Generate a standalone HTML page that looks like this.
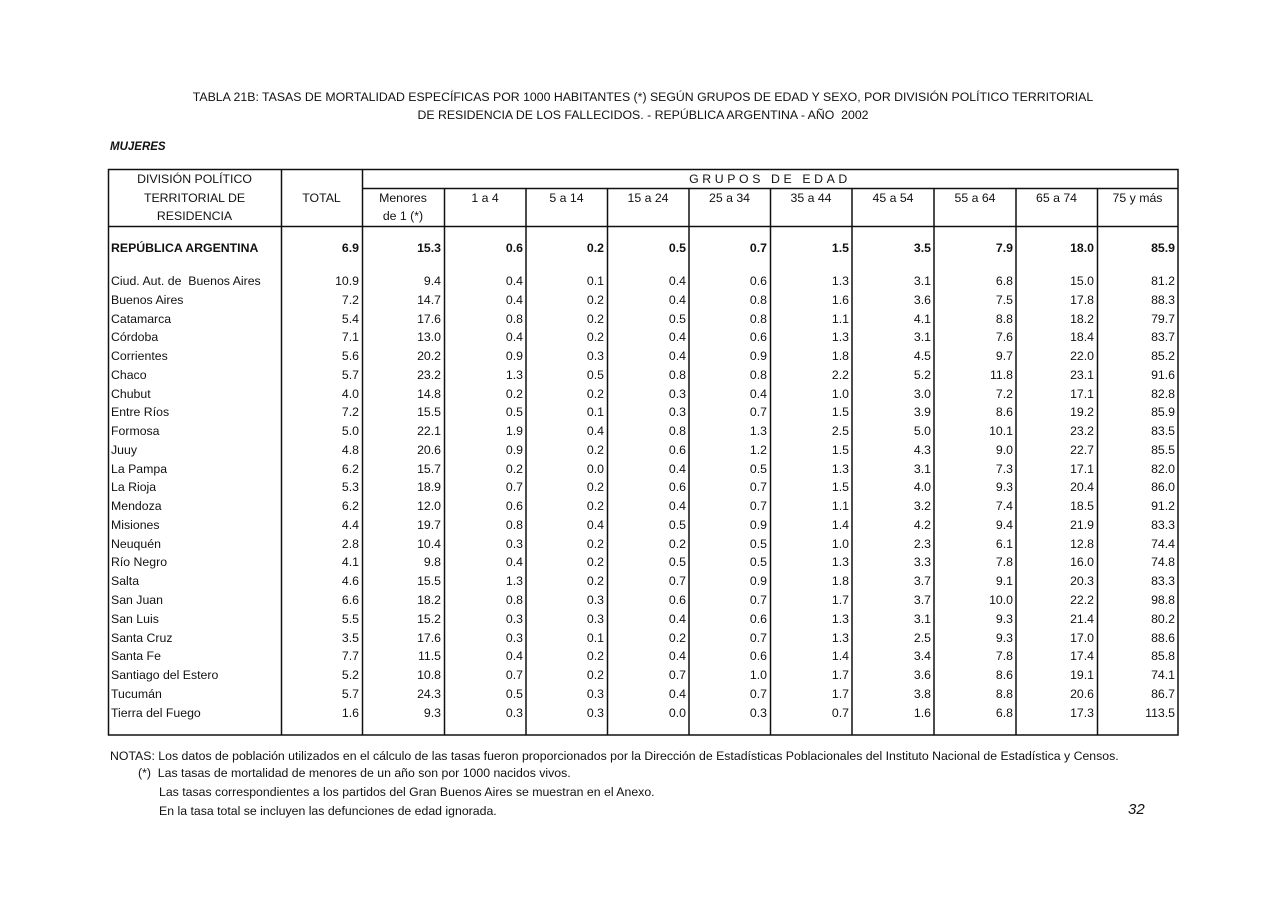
<!DOCTYPE html>
<html><head><meta charset="utf-8"><style>
body{margin:0;width:1280px;height:905px;background:#fff;position:relative;font-family:"Liberation Sans",Arial,sans-serif;color:#111;overflow:hidden}
.a{position:absolute;white-space:nowrap;font-size:12.3px;line-height:14px}
table{position:absolute;left:108px;top:238px;border-collapse:collapse;table-layout:fixed;font-size:12.3px}
td{padding:0 3px 0 2px;height:18.78px;line-height:14px;text-align:right;white-space:nowrap;overflow:hidden}
td:first-child{text-align:left;padding-left:3px}
tr.b td{font-weight:bold;height:20px}
tr.s td{height:13.6px}
</style></head><body>
<div class="a" style="left:0;width:1286px;text-align:center;top:90px;">TABLA 21B: TASAS DE MORTALIDAD ESPECÍFICAS POR 1000 HABITANTES (*) SEGÚN GRUPOS DE EDAD Y SEXO, POR DIVISIÓN POLÍTICO TERRITORIAL</div>
<div class="a" style="left:0;width:1286px;text-align:center;top:108px;">DE RESIDENCIA DE LOS FALLECIDOS. - REPÚBLICA ARGENTINA - AÑO &nbsp;2002</div>
<div class="a" style="left:110px;top:140px;font-size:11.5px;font-weight:bold;font-style:italic">MUJERES</div>
<svg style="position:absolute;left:0;top:0" width="1280" height="905">
<g stroke="#111" stroke-width="1.5" fill="none">
<rect x="108.5" y="169.5" width="1069.5" height="565.5"/>
<line x1="362" y1="188.5" x2="1178" y2="188.5"/>
<line x1="108" y1="226.5" x2="1178" y2="226.5"/>
<line x1="281.5" y1="169" x2="281.5" y2="735"/>
<line x1="362.5" y1="169" x2="362.5" y2="735"/>
<line x1="444.5" y1="188" x2="444.5" y2="735"/>
<line x1="526" y1="188" x2="526" y2="735"/>
<line x1="607.5" y1="188" x2="607.5" y2="735"/>
<line x1="689" y1="188" x2="689" y2="735"/>
<line x1="770.5" y1="188" x2="770.5" y2="735"/>
<line x1="852" y1="188" x2="852" y2="735"/>
<line x1="934" y1="188" x2="934" y2="735"/>
<line x1="1016" y1="188" x2="1016" y2="735"/>
<line x1="1097.5" y1="188" x2="1097.5" y2="735"/>
</g></svg>
<div class="a" style="left:108px;width:173px;text-align:center;top:172px">DIVISIÓN POLÍTICO</div>
<div class="a" style="left:108px;width:173px;text-align:center;top:191px">TERRITORIAL DE</div>
<div class="a" style="left:108px;width:173px;text-align:center;top:209px">RESIDENCIA</div>
<div class="a" style="left:281px;width:81px;text-align:center;top:191px">TOTAL</div>
<div class="a" style="left:362px;width:816px;text-align:center;top:172px;letter-spacing:3.6px">GRUPOS DE EDAD</div>
<div class="a" style="left:362px;width:82px;text-align:center;top:191px">Menores</div>
<div class="a" style="left:362px;width:82px;text-align:center;top:209px">de 1 (*)</div>
<div class="a" style="left:444px;width:82px;text-align:center;top:191px">1 a 4</div>
<div class="a" style="left:526px;width:81px;text-align:center;top:191px">5 a 14</div>
<div class="a" style="left:607px;width:82px;text-align:center;top:191px">15 a 24</div>
<div class="a" style="left:689px;width:81px;text-align:center;top:191px">25 a 34</div>
<div class="a" style="left:770px;width:82px;text-align:center;top:191px">35 a 44</div>
<div class="a" style="left:852px;width:82px;text-align:center;top:191px">45 a 54</div>
<div class="a" style="left:934px;width:82px;text-align:center;top:191px">55 a 64</div>
<div class="a" style="left:1016px;width:81px;text-align:center;top:191px">65 a 74</div>
<div class="a" style="left:1097px;width:81px;text-align:center;top:191px">75 y más</div>
<table>
<colgroup><col style="width:173px"><col style="width:81px"><col style="width:82px"><col style="width:82px"><col style="width:81px"><col style="width:82px"><col style="width:81px"><col style="width:82px"><col style="width:82px"><col style="width:82px"><col style="width:81px"><col style="width:81px"></colgroup>
<tr class="b"><td>REPÚBLICA ARGENTINA</td><td>6.9</td><td>15.3</td><td>0.6</td><td>0.2</td><td>0.5</td><td>0.7</td><td>1.5</td><td>3.5</td><td>7.9</td><td>18.0</td><td>85.9</td></tr>
<tr class="s"><td></td><td></td><td></td><td></td><td></td><td></td><td></td><td></td><td></td><td></td><td></td><td></td></tr>
<tr><td>Ciud. Aut. de &nbsp;Buenos Aires</td><td>10.9</td><td>9.4</td><td>0.4</td><td>0.1</td><td>0.4</td><td>0.6</td><td>1.3</td><td>3.1</td><td>6.8</td><td>15.0</td><td>81.2</td></tr>
<tr><td>Buenos Aires</td><td>7.2</td><td>14.7</td><td>0.4</td><td>0.2</td><td>0.4</td><td>0.8</td><td>1.6</td><td>3.6</td><td>7.5</td><td>17.8</td><td>88.3</td></tr>
<tr><td>Catamarca</td><td>5.4</td><td>17.6</td><td>0.8</td><td>0.2</td><td>0.5</td><td>0.8</td><td>1.1</td><td>4.1</td><td>8.8</td><td>18.2</td><td>79.7</td></tr>
<tr><td>Córdoba</td><td>7.1</td><td>13.0</td><td>0.4</td><td>0.2</td><td>0.4</td><td>0.6</td><td>1.3</td><td>3.1</td><td>7.6</td><td>18.4</td><td>83.7</td></tr>
<tr><td>Corrientes</td><td>5.6</td><td>20.2</td><td>0.9</td><td>0.3</td><td>0.4</td><td>0.9</td><td>1.8</td><td>4.5</td><td>9.7</td><td>22.0</td><td>85.2</td></tr>
<tr><td>Chaco</td><td>5.7</td><td>23.2</td><td>1.3</td><td>0.5</td><td>0.8</td><td>0.8</td><td>2.2</td><td>5.2</td><td>11.8</td><td>23.1</td><td>91.6</td></tr>
<tr><td>Chubut</td><td>4.0</td><td>14.8</td><td>0.2</td><td>0.2</td><td>0.3</td><td>0.4</td><td>1.0</td><td>3.0</td><td>7.2</td><td>17.1</td><td>82.8</td></tr>
<tr><td>Entre Ríos</td><td>7.2</td><td>15.5</td><td>0.5</td><td>0.1</td><td>0.3</td><td>0.7</td><td>1.5</td><td>3.9</td><td>8.6</td><td>19.2</td><td>85.9</td></tr>
<tr><td>Formosa</td><td>5.0</td><td>22.1</td><td>1.9</td><td>0.4</td><td>0.8</td><td>1.3</td><td>2.5</td><td>5.0</td><td>10.1</td><td>23.2</td><td>83.5</td></tr>
<tr><td>Juuy</td><td>4.8</td><td>20.6</td><td>0.9</td><td>0.2</td><td>0.6</td><td>1.2</td><td>1.5</td><td>4.3</td><td>9.0</td><td>22.7</td><td>85.5</td></tr>
<tr><td>La Pampa</td><td>6.2</td><td>15.7</td><td>0.2</td><td>0.0</td><td>0.4</td><td>0.5</td><td>1.3</td><td>3.1</td><td>7.3</td><td>17.1</td><td>82.0</td></tr>
<tr><td>La Rioja</td><td>5.3</td><td>18.9</td><td>0.7</td><td>0.2</td><td>0.6</td><td>0.7</td><td>1.5</td><td>4.0</td><td>9.3</td><td>20.4</td><td>86.0</td></tr>
<tr><td>Mendoza</td><td>6.2</td><td>12.0</td><td>0.6</td><td>0.2</td><td>0.4</td><td>0.7</td><td>1.1</td><td>3.2</td><td>7.4</td><td>18.5</td><td>91.2</td></tr>
<tr><td>Misiones</td><td>4.4</td><td>19.7</td><td>0.8</td><td>0.4</td><td>0.5</td><td>0.9</td><td>1.4</td><td>4.2</td><td>9.4</td><td>21.9</td><td>83.3</td></tr>
<tr><td>Neuquén</td><td>2.8</td><td>10.4</td><td>0.3</td><td>0.2</td><td>0.2</td><td>0.5</td><td>1.0</td><td>2.3</td><td>6.1</td><td>12.8</td><td>74.4</td></tr>
<tr><td>Río Negro</td><td>4.1</td><td>9.8</td><td>0.4</td><td>0.2</td><td>0.5</td><td>0.5</td><td>1.3</td><td>3.3</td><td>7.8</td><td>16.0</td><td>74.8</td></tr>
<tr><td>Salta</td><td>4.6</td><td>15.5</td><td>1.3</td><td>0.2</td><td>0.7</td><td>0.9</td><td>1.8</td><td>3.7</td><td>9.1</td><td>20.3</td><td>83.3</td></tr>
<tr><td>San Juan</td><td>6.6</td><td>18.2</td><td>0.8</td><td>0.3</td><td>0.6</td><td>0.7</td><td>1.7</td><td>3.7</td><td>10.0</td><td>22.2</td><td>98.8</td></tr>
<tr><td>San Luis</td><td>5.5</td><td>15.2</td><td>0.3</td><td>0.3</td><td>0.4</td><td>0.6</td><td>1.3</td><td>3.1</td><td>9.3</td><td>21.4</td><td>80.2</td></tr>
<tr><td>Santa Cruz</td><td>3.5</td><td>17.6</td><td>0.3</td><td>0.1</td><td>0.2</td><td>0.7</td><td>1.3</td><td>2.5</td><td>9.3</td><td>17.0</td><td>88.6</td></tr>
<tr><td>Santa Fe</td><td>7.7</td><td>11.5</td><td>0.4</td><td>0.2</td><td>0.4</td><td>0.6</td><td>1.4</td><td>3.4</td><td>7.8</td><td>17.4</td><td>85.8</td></tr>
<tr><td>Santiago del Estero</td><td>5.2</td><td>10.8</td><td>0.7</td><td>0.2</td><td>0.7</td><td>1.0</td><td>1.7</td><td>3.6</td><td>8.6</td><td>19.1</td><td>74.1</td></tr>
<tr><td>Tucumán</td><td>5.7</td><td>24.3</td><td>0.5</td><td>0.3</td><td>0.4</td><td>0.7</td><td>1.7</td><td>3.8</td><td>8.8</td><td>20.6</td><td>86.7</td></tr>
<tr><td>Tierra del Fuego</td><td>1.6</td><td>9.3</td><td>0.3</td><td>0.3</td><td>0.0</td><td>0.3</td><td>0.7</td><td>1.6</td><td>6.8</td><td>17.3</td><td>113.5</td></tr>
</table>
<div class="a" style="left:110px;top:749px">NOTAS: Los datos de población utilizados en el cálculo de las tasas fueron proporcionados por la Dirección de Estadísticas Poblacionales del Instituto Nacional de Estadística y Censos.</div>
<div class="a" style="left:138px;top:766px">(*) &nbsp;Las tasas de mortalidad de menores de un año son por 1000 nacidos vivos.</div>
<div class="a" style="left:159px;top:785px">Las tasas correspondientes a los partidos del Gran Buenos Aires se muestran en el Anexo.</div>
<div class="a" style="left:159px;top:804px">En la tasa total se incluyen las defunciones de edad ignorada.</div>
<div class="a" style="left:1128px;top:801px;font-size:15px;line-height:18px;font-style:italic">32</div>
</body></html>
